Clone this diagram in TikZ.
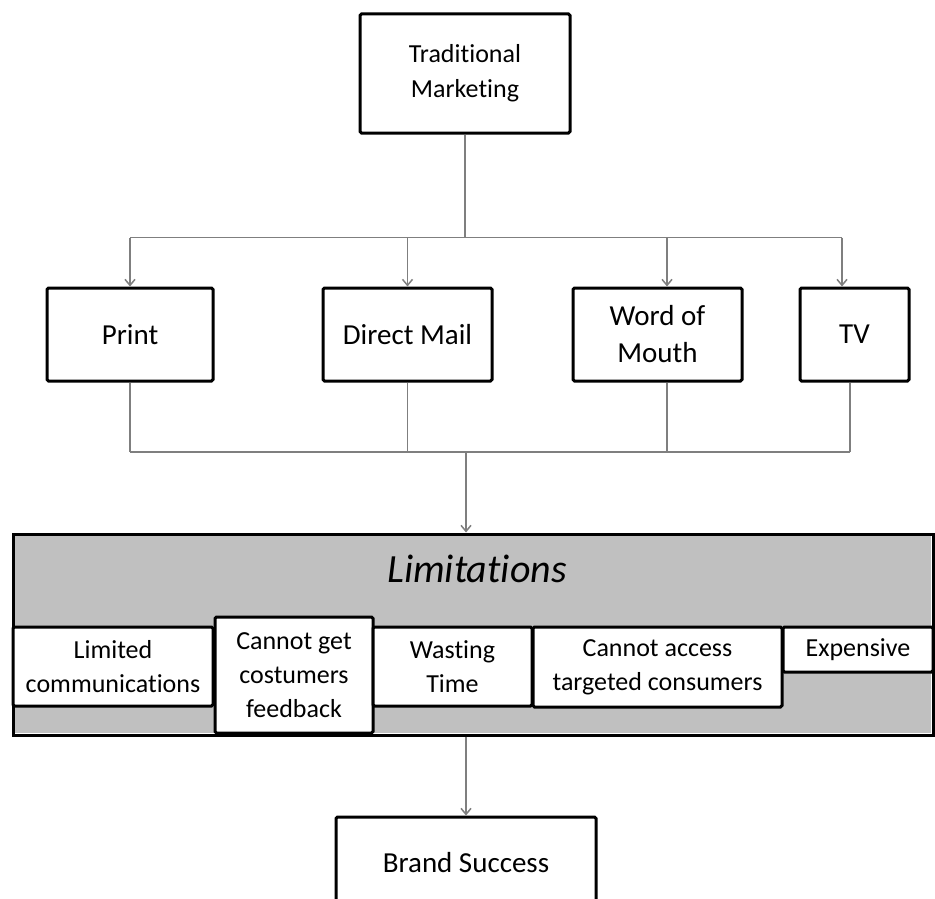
\documentclass[tikz,border=0pt]{standalone}
\usepackage{fontspec}
\setmainfont[Ligatures=CommonOff]{Carlito}
\usepackage{xcolor}
\usepackage{tikz}
\usetikzlibrary{arrows.meta}
\definecolor{linkgray}{HTML}{7F7F7F}
\definecolor{limgray}{HTML}{C0C0C0}

\begin{document}
\begin{tikzpicture}[x=1pt,y=-1pt,
			box/.style={draw,line width=3pt,rounded corners=1.5pt,fill=white,align=center,inner sep=0pt},
			topbox/.style={box,minimum height=93pt,font=\fontsize{29}{37}\selectfont},
			limbox/.style={box,font=\fontsize{26}{34}\selectfont},
			link/.style={draw=linkgray,line width=1.5pt},
			arr/.style={link,-{Straight Barb[length=6pt,width=10pt]}}]
		\useasboundingbox (0,0) rectangle (935,899);
		\node[box,minimum width=210pt,minimum height=119pt,font=\fontsize{26}{35}\selectfont] (trad) at (465,73.5) {Traditional\\Marketing};
		\node[topbox,minimum width=166pt] (print) at (130,334.5) {Print};
		\node[topbox,minimum width=169pt] (dmail) at (407.5,334.5) {Direct Mail};
		\node[topbox,minimum width=169pt] (wom) at (657.5,334.5) {Word of\\Mouth};
		\node[topbox,minimum width=109pt] (tv) at (854.5,334.5) {TV};
		\coordinate (womin) at ([xshift=9.5pt]wom.north);
		\coordinate (tvin) at ([xshift=-12.5pt]tv.north);
		\coordinate (womout) at ([xshift=9.5pt]wom.south);
		\coordinate (tvout) at ([xshift=-4.5pt]tv.south);
		\draw[link] (trad.south) -- ++(0,103) coordinate (fork);
		\draw[link] (fork -| print.north) -- (fork -| tvin);
		\foreach \n in {print.north,dmail.north,womin,tvin}
			\draw[arr] (fork -| \n) -- (\n);
		\coordinate (join) at (466,452);
		\foreach \n in {print.south,dmail.south,womout,tvout}
			\draw[link] (\n) -- (join -| \n);
		\draw[link] (join -| print.south) -- (join -| tvout);
		\node[box,rounded corners=0pt,minimum width=920pt,minimum height=201pt] (limits) at (473,634.5) {};
		\fill[limgray] ([shift={(3.5,3.5)}]limits.north west) rectangle ([shift={(-3.5,-3.5)}]limits.south east);
		\draw[arr] (join) -- (join |- limits.north);
		\node[font=\fontsize{40}{44}\selectfont\itshape] (limtitle) at (477,569) {Limitations};
		\node[limbox,minimum width=200pt,minimum height=79pt] (lcomm) at (113,666.5) {Limited\\communications};
		\node[limbox,minimum width=158pt,minimum height=116pt] (feedb) at (294,675) {Cannot get\\costumers\\feedback};
		\node[limbox,minimum width=159pt,minimum height=79pt] (wtime) at (452.5,666.5) {Wasting\\Time};
		\node[limbox,minimum width=249pt,minimum height=80pt] (access) at (657.5,667) {Cannot access\\targeted consumers};
		\node[limbox,minimum width=150pt,minimum height=45pt] (expens) at (858,649.5) {Expensive};
		\node[box,minimum width=260pt,minimum height=92pt,font=\fontsize{29}{35}\selectfont] (brand) at (466,863) {Brand Success};
		\draw[arr] (limits.south -| brand.north) -- (brand.north);
\end{tikzpicture}
\end{document}
